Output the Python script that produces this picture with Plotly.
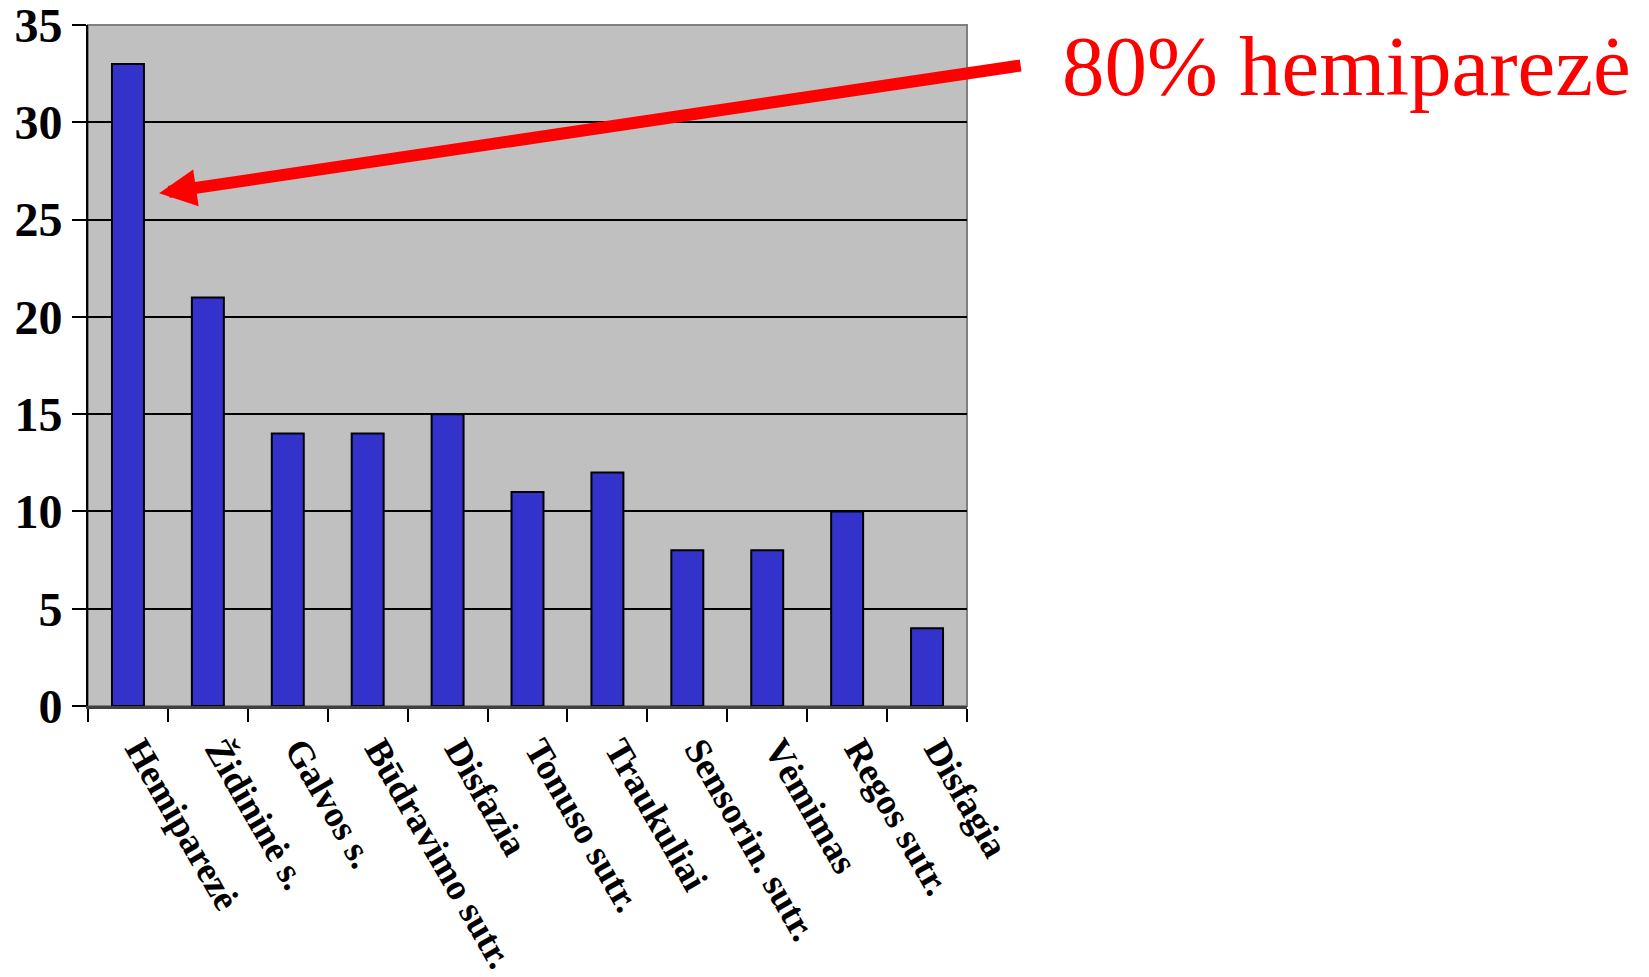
import plotly.graph_objects as go

categories = ["Hemiparezė", "Židininė s.", "Galvos s.", "Būdravimo sutr.", "Disfazia",
              "Tonuso sutr.", "Traukuliai", "Sensorin. sutr.", "Vėmimas", "Regos sutr.", "Disfagia"]
values = [33, 21, 14, 14, 15, 11, 12, 8, 8, 10, 4]
y_ticks = [0, 5, 10, 15, 20, 25, 30, 35]
annotation_text = "80% hemiparezė"

fig = go.Figure()
fig.add_trace(go.Bar(
    x=categories, y=values,
    marker=dict(color="#3333CC", line=dict(color="black", width=2)),
    hoverinfo="x+y",
))

fig.update_layout(
    width=1649, height=977,
    margin=dict(l=88, r=682, t=25, b=271, autoexpand=False),
    paper_bgcolor="white",
    plot_bgcolor="#C0C0C0",
    bargap=0.6,
    showlegend=False,
    font=dict(family="Liberation Serif, Times New Roman, serif", color="black"),
)

fig.update_yaxes(
    range=[0, 35.001], tickvals=y_ticks, ticktext=[str(v) for v in y_ticks],
    showgrid=True, gridcolor="black", gridwidth=2,
    showline=True, linecolor="black", linewidth=2,
    ticks="outside", ticklen=14, tickwidth=2, tickcolor="black",
    tickfont=dict(size=48, family="Liberation Serif", weight="bold"),
    ticklabeloverflow="allow", automargin=False,
    zeroline=False, fixedrange=True,
)
fig.update_xaxes(
    showline=True, linecolor="#404040", linewidth=3,
    ticks="outside", tickson="boundaries", ticklen=13, tickwidth=2, tickcolor="black",
    tickangle=60,
    tickfont=dict(size=37, family="Liberation Serif", weight="bold"),
    ticklabelshift=12, ticklabelstandoff=4, automargin=False,
    showgrid=False, fixedrange=True,
)

# plot border (top/right gray)
fig.add_shape(type="rect", xref="paper", yref="paper", x0=0, x1=1, y0=0, y1=1,
              line=dict(color="#808080", width=2), layer="below")

# arrow pointing at the first bar
fig.add_annotation(
    x=0.39, y=26.35, xref="x", yref="y",
    ax=863, ay=-128, text="",
    showarrow=True, arrowhead=2, arrowwidth=12, arrowsize=0.62, arrowcolor="#FF0000",
)
fig.add_annotation(
    x=1.106, y=0.94, xref="paper", yref="paper",
    xanchor="left", yanchor="middle",
    text=annotation_text, showarrow=False,
    font=dict(size=85, color="#FF0000", family="Liberation Serif"),
)

fig.write_html("out.html")
